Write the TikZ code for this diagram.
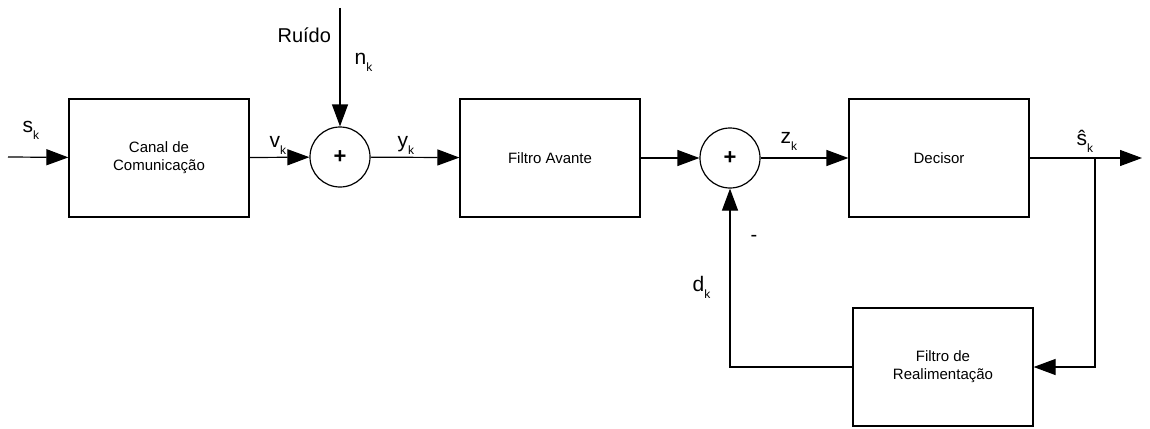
\documentclass[tikz,border=0pt]{standalone}
\usepackage{fontspec}
\setmainfont{Liberation Sans}
\usepackage{tikz}
\usetikzlibrary{arrows.meta}

\newcommand{\sig}[1]{{\fontsize{21}{24}\selectfont #1}\raisebox{-7pt}{\fontsize{12}{14}\selectfont k}}

\begin{document}
\begin{tikzpicture}[x=1pt, y=-1pt, line width=1.2pt, >={Triangle[length=22pt, width=16pt]},
	every node/.style={font=\fontsize{15}{18}\selectfont},
	blockbox/.style={draw, rectangle, minimum width=180pt, minimum height=118pt, align=center, inner sep=0pt},
	sumnode/.style={draw, circle, minimum size=60pt, inner sep=0pt, font=\fontsize{22}{22}\selectfont\bfseries},
	lbl/.style={anchor=base west, inner sep=0pt}]
	\useasboundingbox (0,0) rectangle (1150,428);
	% blocos
	\node[blockbox] (canal) at (159,158) {Canal de\\Comunicação};
	\node[sumnode] (sum1) at (340,157) {+};
	\node[blockbox] (avante) at (550,158) {Filtro Avante};
	\node[sumnode] (sum2) at (730,158) {+};
	\node[blockbox] (decisor) at (939,158) {Decisor};
	\node[blockbox] (realim) at (943,367) {Filtro de\\Realimentação};
	\coordinate (in) at (8,157);
	\coordinate (ntop) at (340,8);
	\coordinate (branch) at (1095,158);
	\coordinate (out) at (1142,158);
	% ligacoes
	\draw[->] (in) -- (canal);
	\draw[->] (canal) -- (sum1);
	\draw[->] (ntop) -- (sum1);
	\draw[->] (sum1) -- (avante);
	\draw[->] (avante) -- (sum2);
	\draw[->] (sum2) -- (decisor);
	\draw[->] (decisor) -- (out);
	\draw[->] (branch) |- (realim);
	\draw[->] (realim) -| (sum2);
	% rotulos
	\node[lbl] (lbls) at (22,132) {\sig{s}};
	\node[lbl, font=\fontsize{20}{22}\selectfont] (lblruido) at (277,43) {Ruído};
	\node[lbl] (lbln) at (354,64) {\sig{n}};
	\node[lbl] (lblv) at (269,147) {\sig{v}};
	\node[lbl] (lbly) at (397,147) {\sig{y}};
	\node[lbl] (lblz) at (780,143) {\sig{z}};
	\node[lbl] (lblshat) at (1076,145) {\sig{ŝ}};
	\node[lbl] (lbld) at (692,291) {\sig{d}};
	\node[font=\fontsize{20}{22}\selectfont] (lblminus) at (754,238) {-};
\end{tikzpicture}
\end{document}
